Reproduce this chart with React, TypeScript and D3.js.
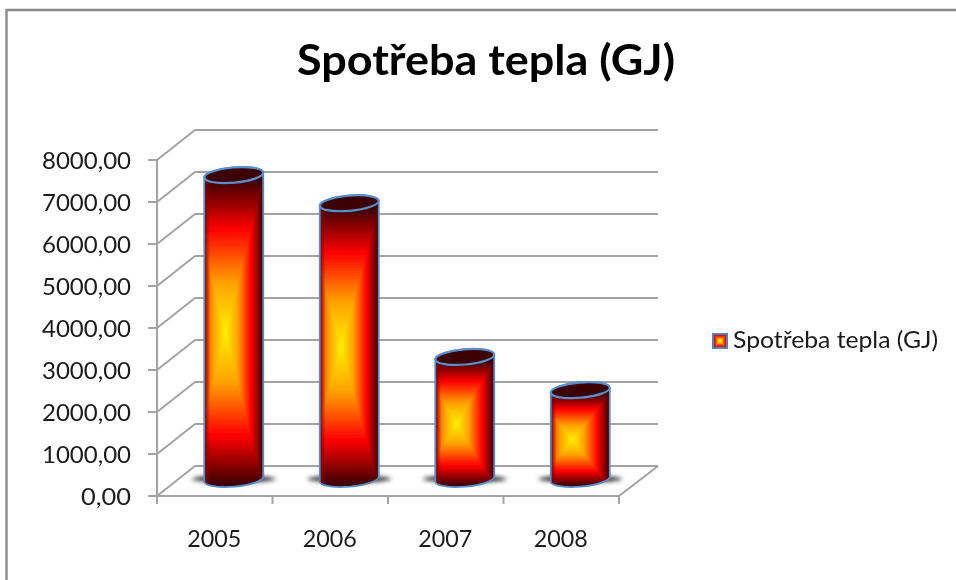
import React from "react";
import * as d3 from "d3";

const years = ["2005", "2006", "2007", "2008"];
const heat = [7260, 6590, 2930, 2140];
const yTicks = [0, 1000, 2000, 3000, 4000, 5000, 6000, 7000, 8000];
const seriesName = "Spotřeba tepla (GJ)";

const y = d3.scaleLinear().domain([0, 8000]).range([496, 160]);
const x = d3.scaleBand().domain(years).range([157, 619]);
const DX = 38;
const DY = -30;
const font = "Lato, Carlito, 'Noto Sans', sans-serif";
const grid = "#a3a3a3";
const ramp = d3
  .scaleLinear<string>()
  .domain([0, 0.33, 0.68, 1])
  .range(["#fff000", "#ffa200", "#ff0000", "#3c0000"])
  .interpolate(d3.interpolateRgb);
const steps = d3.range(1, 0, -1 / 70);

function Cylinder({ year, value }: { year: string; value: number }) {
  const rx = 29.5;
  const ry = 7.6;
  const rot = -5;
  const cx = (x(year) as number) + x.bandwidth() / 2 + DX / 2;
  const topY = y(value) - 16;
  const botY = y(0) - 17;
  const slope = Math.tan((rot * Math.PI) / 180) * rx;
  const body = `M${cx - rx},${topY - slope} L${cx - rx},${botY - slope} A${rx},${ry} ${rot} 0 0 ${cx + rx},${botY + slope} L${cx + rx},${topY + slope} A${rx},${ry} ${rot} 0 0 ${cx - rx},${topY - slope} Z`;
  const id = `clip-${year}`;
  const gx = cx - rx + rx * 2 * 0.36;
  const top = topY + 4;
  const bot = botY + 7;
  const gy = (top + bot) / 2;
  const hw = rx * 2 * 0.64;
  const hh = (bot - top) / 2;
  return (
    <g>
      <ellipse cx={cx} cy={botY} rx={42} ry={3.5} fill="#333" filter="url(#shadow)" />
      <clipPath id={id}>
        <path d={body} />
      </clipPath>
      <g clipPath={`url(#${id})`}>
        <rect x={cx - rx - 2} y={topY - 20} width={rx * 2 + 4} height={botY - topY + 40} fill="#3c0000" />
        {steps.map((t) => (
          <rect key={t} x={gx - hw * t} y={gy - hh * t} width={hw * t * 2} height={hh * t * 2} fill={ramp(t)} />
        ))}
        <rect x={cx - rx} y={topY - 20} width={6} height={botY - topY + 40} fill="url(#rim)" />
      </g>
      <path d={body} fill="none" stroke="#5a8ecb" strokeWidth={1.8} />
      <ellipse cx={cx} cy={topY} rx={rx} ry={ry} transform={`rotate(${rot} ${cx} ${topY})`} fill="#3c0000" stroke="#5a8ecb" strokeWidth={2.2} />
    </g>
  );
}

export default function App() {
  const x0 = 157;
  const x1 = 619;
  return (
    <svg width={956} height={580} style={{ position: "absolute", left: 0, top: 0, display: "block", background: "#fff" }}>
      <defs>
        <filter id="soft" x="0" y="0" width="956" height="580" filterUnits="userSpaceOnUse">
          <feGaussianBlur stdDeviation="0.55" />
        </filter>
        <filter id="shadow" x="-30%" y="-150%" width="160%" height="400%">
          <feGaussianBlur stdDeviation="2.2" />
        </filter>
        <linearGradient id="rim">
          <stop offset="0" stopColor="#6a0000" stopOpacity={0.95} />
          <stop offset="1" stopColor="#a00000" stopOpacity={0} />
        </linearGradient>
      </defs>
      <g filter="url(#soft)">
        <rect x={0} y={0} width={956} height={580} fill="#fff" />
        <path d="M6.5,580 V10 H956" fill="none" stroke="#8a8a8a" strokeWidth={2.4} />
        <text x={486} y={75} textAnchor="middle" fontFamily={font} fontWeight={700} fontSize={42} textLength={378} lengthAdjust="spacingAndGlyphs" fill="#000">{seriesName}</text>

        {yTicks.map((t) => (
          <g key={t} stroke={grid} strokeWidth={2} fill="none">
            <line x1={x0 + DX} x2={x1 + DX + 1} y1={y(t) + DY} y2={y(t) + DY} />
            <line x1={x0} x2={x0 + DX} y1={y(t)} y2={y(t) + DY} />
            <line x1={x0 - 9} x2={x0} y1={y(t)} y2={y(t)} />
          </g>
        ))}
        <line x1={x0} x2={x0} y1={y(8000)} y2={y(0) + 8} stroke={grid} strokeWidth={2} />
        <line x1={x0} x2={x1} y1={y(0)} y2={y(0)} stroke={grid} strokeWidth={2} />
        <line x1={x1} x2={x1 + DX + 1} y1={y(0)} y2={y(0) + DY} stroke={grid} strokeWidth={2} />
        {years.map((yr) => (
          <line key={yr} x1={(x(yr) as number) + x.bandwidth()} x2={(x(yr) as number) + x.bandwidth()} y1={y(0)} y2={y(0) + 8} stroke={grid} strokeWidth={2} />
        ))}

        {yTicks.map((t) => {
          const label = t.toFixed(2).replace(".", ",");
          return (
            <text key={t} x={131} y={y(t) + 8.5} textAnchor="end" fontFamily={font} fontSize={23} textLength={label.length === 7 ? 89 : 50} lengthAdjust="spacingAndGlyphs" fill="#1a1a1a">
              {label}
            </text>
          );
        })}
        {years.map((yr) => (
          <text key={yr} x={(x(yr) as number) + x.bandwidth() / 2 - 0.5} y={547} textAnchor="middle" fontFamily={font} fontSize={23} textLength={54} lengthAdjust="spacingAndGlyphs" fill="#1a1a1a">
            {yr}
          </text>
        ))}

        {years.map((yr, i) => (
          <Cylinder key={yr} year={yr} value={heat[i]} />
        ))}

        <rect x={713} y={334} width={14} height={14} fill="#e01000" stroke="#4f81bd" strokeWidth={2} />
        <rect x={715.5} y={336.5} width={9} height={9} fill="#ff5000" />
        <rect x={717} y={338} width={6} height={6} fill="#ffa200" />
        <rect x={718.5} y={339.5} width={3} height={3} fill="#fff000" />
        <text x={733} y={348} fontFamily={font} fontSize={23} textLength={205} lengthAdjust="spacingAndGlyphs" fill="#1a1a1a">{seriesName}</text>
      </g>
    </svg>
  );
}
